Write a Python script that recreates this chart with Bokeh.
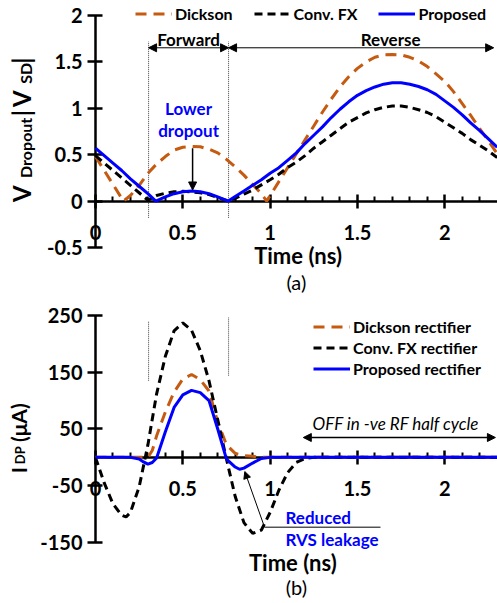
from math import pi
from bokeh.plotting import figure
from bokeh.models import (Range1d, FixedTicker, Label, Arrow, NormalHead,
                          Legend, LegendItem)
from bokeh.layouts import column
from bokeh.embed import file_html
from bokeh.resources import INLINE

FONT = "Lato"
ORANGE = "#C55A11"
BLUE = "#0000FF"

# ---------------- data: (a) dropout voltage |V_SD| (V) ----------------
t_dick_a = [0, 0.05, 0.1, 0.16, 0.2, 0.25, 0.3, 0.35, 0.4, 0.45, 0.5, 0.55, 0.6, 0.65, 0.7,
            0.75, 0.8, 0.85, 0.9, 0.95, 0.98, 1.0, 1.05, 1.1, 1.15, 1.2, 1.25, 1.3, 1.35, 1.4,
            1.45, 1.5, 1.55, 1.6, 1.65, 1.7, 1.75, 1.8, 1.85, 1.9, 1.95, 2.0, 2.05, 2.1, 2.15,
            2.2, 2.25, 2.3]
v_dick_a = [0.48, 0.33, 0.18, 0.0, 0.06, 0.17, 0.30, 0.40, 0.48, 0.55, 0.58, 0.59, 0.585, 0.56,
            0.52, 0.45, 0.37, 0.28, 0.18, 0.08, 0.0, 0.06, 0.21, 0.36, 0.51, 0.66, 0.81, 0.96,
            1.10, 1.23, 1.34, 1.43, 1.50, 1.55, 1.575, 1.58, 1.575, 1.55, 1.51, 1.45, 1.37,
            1.29, 1.18, 1.05, 0.92, 0.78, 0.65, 0.51]

t_fx_a = [0, 0.05, 0.1, 0.15, 0.2, 0.25, 0.3, 0.35, 0.4, 0.45, 0.5, 0.55, 0.6, 0.65, 0.7, 0.76,
          0.8, 0.85, 0.9, 0.95, 1.0, 1.05, 1.1, 1.15, 1.2, 1.25, 1.3, 1.35, 1.4, 1.45, 1.5,
          1.55, 1.6, 1.65, 1.7, 1.75, 1.8, 1.85, 1.9, 1.95, 2.0, 2.05, 2.1, 2.15, 2.2, 2.25, 2.3]
v_fx_a = [0.49, 0.41, 0.33, 0.25, 0.17, 0.09, 0.01, 0.06, 0.085, 0.10, 0.105, 0.10, 0.09, 0.07,
          0.04, 0.0, 0.03, 0.075, 0.12, 0.175, 0.23, 0.29, 0.36, 0.42, 0.49, 0.57, 0.64, 0.71,
          0.78, 0.85, 0.90, 0.95, 0.985, 1.01, 1.025, 1.025, 1.01, 0.985, 0.955, 0.91, 0.85,
          0.79, 0.73, 0.66, 0.60, 0.54, 0.47]

t_prop_a = [0, 0.05, 0.1, 0.15, 0.2, 0.25, 0.3, 0.345, 0.4, 0.45, 0.5, 0.55, 0.6, 0.65, 0.7,
            0.76, 0.8, 0.85, 0.9, 0.95, 1.0, 1.05, 1.1, 1.15, 1.2, 1.25, 1.3, 1.35, 1.4, 1.45,
            1.5, 1.55, 1.6, 1.65, 1.7, 1.75, 1.8, 1.85, 1.9, 1.95, 2.0, 2.05, 2.1, 2.15, 2.2,
            2.25, 2.3]
v_prop_a = [0.57, 0.49, 0.41, 0.33, 0.24, 0.16, 0.08, 0.0, 0.045, 0.08, 0.10, 0.11, 0.10, 0.08,
            0.045, 0.0, 0.05, 0.11, 0.17, 0.23, 0.30, 0.36, 0.44, 0.52, 0.62, 0.71, 0.80, 0.90,
            0.99, 1.07, 1.14, 1.19, 1.23, 1.26, 1.275, 1.275, 1.26, 1.235, 1.20, 1.15, 1.08,
            1.01, 0.93, 0.84, 0.76, 0.67, 0.58]

# ---------------- data: (b) diode current I_DP (uA) ----------------
t_dick_b = [0, 0.3, 0.325, 0.35, 0.4, 0.45, 0.5, 0.55, 0.6, 0.65, 0.7, 0.75, 0.8, 0.85, 0.9,
            0.95, 2.3]
i_dick_b = [0, 0, 12, 38, 80, 115, 138, 146, 137, 117, 62, 22, 7, 3, 2, 0, 0]

t_fx_b = [0, 0.05, 0.1, 0.15, 0.175, 0.2, 0.25, 0.3, 0.35, 0.4, 0.45, 0.5, 0.55, 0.6, 0.65,
          0.7, 0.75, 0.8, 0.85, 0.9, 0.95, 1.0, 1.05, 1.1, 1.15, 1.2, 1.25, 2.3]
i_fx_b = [0, -45, -82, -102, -105, -97, -52, 22, 112, 178, 223, 237, 224, 188, 135, 66, -3,
          -69, -115, -134, -128, -97, -58, -27, -9, -2, 0, 0]

t_prop_b = [0, 0.2, 0.25, 0.275, 0.3, 0.325, 0.35, 0.4, 0.45, 0.5, 0.55, 0.6, 0.65, 0.7, 0.75,
            0.8, 0.825, 0.85, 0.9, 0.95, 1.0, 2.3]
i_prop_b = [0, 0, -3, -8, -12, -9, -1, 45, 88, 110, 118, 114, 100, 50, -3, -17, -21, -19, -10,
            -2, 0, 0]

series_names_a = ["Dickson", "Conv. FX", "Proposed"]
series_names_b = ["Dickson rectifier", "Conv. FX rectifier", "Proposed rectifier"]

x_ticks = [0, 0.5, 1, 1.5, 2]
x_tick_labels = ["0", "0.5", "1", "1.5", "2"]
x_minor = [0.1, 0.2, 0.3, 0.4, 0.6, 0.7, 0.8, 0.9, 1.1, 1.2, 1.3, 1.4, 1.6, 1.7, 1.8, 1.9,
           2.1, 2.2]
ya_ticks = [-0.5, 0, 0.5, 1, 1.5, 2]
ya_tick_labels = ["-0.5", "0", "0.5", "1", "1.5", "2"]
yb_ticks = [-150, -50, 50, 150, 250]
yb_tick_labels = ["-150", "-50", "50", "150", "250"]

X_AXIS = (0, 2.3)
YA_AXIS = (-0.5, 2.0)
YB_AXIS = (-150, 250)
FWD = [0.304, 0.762]

# view windows (the frame fills the canvas; axes sit at fixed data locations)
XVIEW = (-0.544, 2.302)
YA_VIEW = (-1.017, 2.1616)
YB_VIEW = (-255.7, 285.2)


def style(p, yticks, ylabels, ybounds):
    p.grid.visible = False
    p.outline_line_color = None
    p.background_fill_color = "white"
    p.border_fill_color = "white"
    xa = p.xaxis[0]
    ya = p.yaxis[0]
    xa.fixed_location = 0
    ya.fixed_location = 0
    xa.bounds = X_AXIS
    ya.bounds = ybounds
    xa.axis_label = None
    ya.axis_label = None
    xa.ticker = FixedTicker(ticks=x_ticks, minor_ticks=x_minor)
    xa.major_label_overrides = dict(zip(x_ticks, x_tick_labels))
    ya.ticker = FixedTicker(ticks=yticks, minor_ticks=[])
    ya.major_label_overrides = dict(zip(yticks, ylabels))
    for ax in (xa, ya):
        ax.axis_line_width = 2.5
        ax.axis_line_color = "black"
        ax.major_tick_line_width = 2.5
        ax.major_tick_line_color = "black"
        ax.minor_tick_line_width = 2
        ax.minor_tick_line_color = "black"
        ax.major_label_text_font = FONT
        ax.major_label_text_font_style = "bold"
        ax.major_label_text_font_size = "20px"
        ax.major_label_text_color = "black"
    xa.major_tick_in = 7
    xa.major_tick_out = 7
    xa.minor_tick_in = 5
    xa.minor_tick_out = 0
    xa.major_label_standoff = 17
    ya.major_tick_in = 7
    ya.major_tick_out = 8
    ya.minor_tick_in = 0
    ya.minor_tick_out = 0
    ya.major_label_standoff = 5


def lab(p, x, y, text, size, color="black", style="bold", angle=0.0, align="center",
        baseline="middle"):
    p.add_layout(Label(x=x, y=y, text=text, text_font=FONT, text_font_size=size,
                       text_font_style=style, text_color=color, angle=angle,
                       text_align=align, text_baseline=baseline))


def vlab(p, x, y, text, size):
    lab(p, x, y, text, size, angle=pi / 2, align="left", baseline="middle")


def add_lines(p, data):
    rs = []
    rs.append(p.line(data[0][0], data[0][1], line_color=ORANGE, line_width=3,
                     line_dash="11 7", level="annotation"))
    rs.append(p.line(data[1][0], data[1][1], line_color="black", line_width=3,
                     line_dash="8 5", level="annotation"))
    rs.append(p.line(data[2][0], data[2][1], line_color=BLUE, line_width=3,
                     level="annotation"))
    return rs


def head():
    return NormalHead(size=8, fill_color="black", line_color="black")


# ============================ (a) ============================
pa = figure(width=497, height=295, x_range=Range1d(*XVIEW), y_range=Range1d(*YA_VIEW),
            output_backend="svg", toolbar_location=None, min_border=0)
style(pa, ya_ticks, ya_tick_labels, YA_AXIS)

pa.segment(x0=FWD, y0=[-0.18, -0.18], x1=FWD, y1=[1.72, 1.72], line_color="#444444",
           line_width=1, line_dash="1 1")
ra = add_lines(pa, [(t_dick_a, v_dick_a), (t_fx_a, v_fx_a), (t_prop_a, v_prop_a)])

pa.add_layout(Arrow(x_start=FWD[0], y_start=1.652, x_end=FWD[1], y_end=1.652, line_width=1,
                    start=head(), end=head()))
pa.add_layout(Arrow(x_start=FWD[1], y_start=1.652, x_end=2.28, y_end=1.652, line_width=1,
                    start=head(), end=head()))
lab(pa, 0.533, 1.74, "Forward", "17px")
lab(pa, 1.69, 1.74, "Reverse", "17px")
lab(pa, 0.533, 0.995, "Lower", "17px", color=BLUE)
lab(pa, 0.533, 0.76, "dropout", "17px", color=BLUE)
pa.add_layout(Arrow(x_start=0.556, y_start=0.57, x_end=0.556, y_end=0.12, line_width=1.5,
                    end=head()))

lab(pa, 1.16, -0.586, "Time (ns)", "22px")
lab(pa, 1.15, -0.87, "(a)", "20px", style="normal")

# rotated y-axis label: V_Dropout |V_SD|
yx = -0.421
sx = -0.402
vlab(pa, yx, -0.01, "V", "24px")
vlab(pa, sx, 0.25, "Dropout", "16px")
vlab(pa, yx, 0.915, "|", "24px")
vlab(pa, yx, 1.015, "V", "24px")
vlab(pa, sx, 1.265, "SD", "16px")
vlab(pa, yx, 1.48, "|", "24px")

leg_a = Legend(items=[LegendItem(label=n, renderers=[r]) for n, r in zip(series_names_a, ra)],
               orientation="horizontal", location=(135, 271))
pa.add_layout(leg_a, "center")

# ============================ (b) ============================
pb = figure(width=497, height=307, x_range=Range1d(*XVIEW), y_range=Range1d(*YB_VIEW),
            output_backend="svg", toolbar_location=None, min_border=0)
style(pb, yb_ticks, yb_tick_labels, YB_AXIS)

pb.segment(x0=FWD, y0=[135, 144], x1=FWD, y1=[240, 247], line_color="#444444",
           line_width=1, line_dash="1 1")
rb = add_lines(pb, [(t_dick_b, i_dick_b), (t_fx_b, i_fx_b), (t_prop_b, i_prop_b)])

lab(pb, 1.72, 60, "OFF in -ve RF half cycle", "17px", style="italic")
pb.add_layout(Arrow(x_start=1.19, y_start=35, x_end=2.29, y_end=35, line_width=1.5,
                    start=head(), end=head()))
lab(pb, 1.088, -106, "Reduced", "17px", color=BLUE, align="left")
lab(pb, 1.088, -145, "RVS leakage", "17px", color=BLUE, align="left")
pb.segment(x0=[0.968], y0=[-123], x1=[1.632], y1=[-123], line_color="black", line_width=1)
pb.add_layout(Arrow(x_start=0.968, y_start=-123, x_end=0.855, y_end=-25, line_width=1,
                    end=NormalHead(size=7, fill_color="black", line_color="black")))

lab(pb, 1.13, -185, "Time (ns)", "22px")
lab(pb, 1.15, -229, "(b)", "20px", style="normal")

yxb = -0.443
sxb = -0.432
vlab(pb, yxb, -28, "I", "21px")
vlab(pb, sxb, -12, "DP", "13px")
vlab(pb, yxb, 27, "(\u03bcA)", "21px")

leg_b = Legend(items=[LegendItem(label=n, renderers=[r]) for n, r in zip(series_names_b, rb)],
               orientation="vertical", location=(313, 223))
pb.add_layout(leg_b, "center")

for lg, sp in ((leg_a, 21), (leg_b, 0)):
    lg.label_text_font = FONT
    lg.label_text_font_style = "bold"
    lg.label_text_font_size = "16px"
    lg.label_text_color = "black"
    lg.glyph_width = 37
    lg.glyph_height = 21
    lg.label_height = 21
    lg.label_standoff = 3
    lg.spacing = sp
    lg.margin = 0
    lg.padding = 0
    lg.background_fill_alpha = 0
    lg.border_line_alpha = 0

layout = column(pa, pb, spacing=0)
open("out.html", "w").write(file_html(layout, INLINE))
